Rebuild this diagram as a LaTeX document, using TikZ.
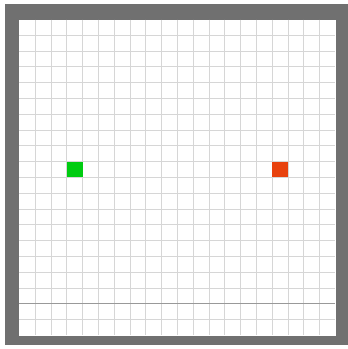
\documentclass[tikz,border=0pt]{standalone}
\definecolor{wallgray}{HTML}{707070}
\definecolor{startgreen}{HTML}{00CC11}
\definecolor{goalred}{HTML}{E8420E}
\tikzset{
  gridline/.style={line width=0.5pt,draw=black!16},
  markline/.style={line width=0.6pt,draw=black!40},
  cellfill/.style={line width=0pt}
}
\begin{document}
\begin{tikzpicture}[x=0.02cm,y=-0.02cm]
\useasboundingbox (0,0) rectangle (348,349);
\fill[white] (0,0) rectangle (348,349);

% outer wall
\fill[wallgray] (5,4) rectangle (348,345);
\fill[white] (19.5,19.5) rectangle (335.5,335.5);

% the 20x20 board
\begin{scope}[shift={(19.5,19.5)},x=0.316cm,y=-0.316cm]
\foreach \k in {1,...,19} {
  \draw[gridline] (\k,0) -- (\k,20);
  \draw[gridline] (0,\k) -- (20,\k);
}
\draw[markline] (0,18) -- (20,18);

\fill[startgreen,cellfill] (3,9) rectangle (4,10);
\fill[goalred,cellfill] (16,9) rectangle (17,10);
\end{scope}
\end{tikzpicture}
\end{document}
